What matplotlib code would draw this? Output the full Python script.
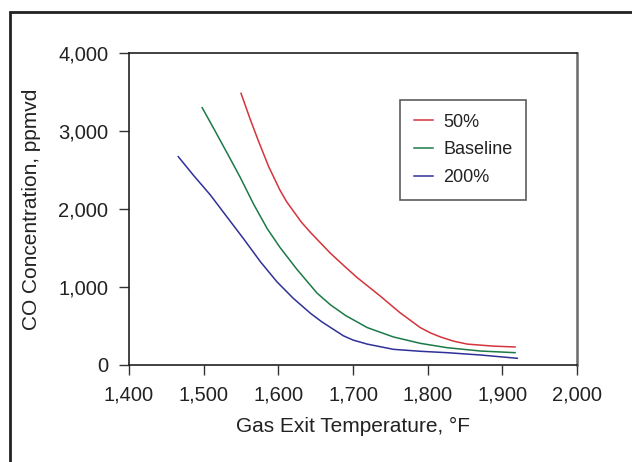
import matplotlib
matplotlib.use("Agg")
import matplotlib.pyplot as plt
from matplotlib.patches import Rectangle

plt.rcParams['font.family'] = ['Liberation Sans', 'DejaVu Sans']

# Gas exit temperature (°F) and CO concentration (ppmvd) for each case
temp_50 = [1550, 1562, 1573, 1587, 1595, 1602, 1611, 1620, 1631, 1643, 1669, 1687,
           1705, 1737, 1763, 1790, 1804, 1817, 1835, 1853, 1888, 1917]
co_50 = [3483, 3160, 2880, 2545, 2385, 2245, 2095, 1975, 1830, 1700, 1440, 1280,
         1125, 880, 670, 480, 410, 360, 305, 268, 242, 231]

temp_base = [1498, 1513, 1531, 1549, 1567, 1585, 1602, 1625, 1652, 1670, 1690, 1719,
             1754, 1790, 1826, 1871, 1917]
co_base = [3299, 3040, 2725, 2405, 2060, 1750, 1510, 1225, 920, 770, 635, 480,
           360, 278, 222, 179, 158]

temp_200 = [1466, 1486, 1509, 1531, 1553, 1576, 1598, 1620, 1643, 1658, 1687, 1700,
            1719, 1754, 1790, 1826, 1871, 1920]
co_200 = [2671, 2436, 2179, 1901, 1624, 1324, 1068, 855, 663, 555, 375, 320,
          268, 201, 176, 158, 128, 86]

series_labels = ["50%", "Baseline", "200%"]
series_colors = ["#d4343c", "#1b7a46", "#30309a"]

x_ticks = [1400, 1500, 1600, 1700, 1800, 1900, 2000]
y_ticks = [0, 1000, 2000, 3000, 4000]

W, H = 632, 462
fig = plt.figure(figsize=(W / 100, H / 100), dpi=100)
ax = fig.add_axes([129 / W, 1 - 365 / H, 448 / W, 312 / H])

# Outer frame that runs off the right and bottom edges
fig.patches.append(Rectangle((10 / W, -1), 2, 1 + (1 - 12 / H), transform=fig.transFigure,
                             fill=False, edgecolor="#222222", linewidth=2.0, zorder=0))

for xs, ys, lab, col in zip([temp_50, temp_base, temp_200], [co_50, co_base, co_200],
                            series_labels, series_colors):
    ax.plot(xs, ys, color=col, linewidth=1.1, label=lab,
            solid_joinstyle="round", antialiased=True)

ax.set_xlim(1400, 2000)
ax.set_ylim(0, 4000)
ax.set_xticks(x_ticks)
ax.set_yticks(y_ticks)
ax.set_xticklabels([f"{v:,}" for v in x_ticks])
ax.set_yticklabels([f"{v:,}" for v in y_ticks])
ax.tick_params(axis="both", direction="out", length=7, width=1.0, labelsize=14.5,
               color="#333333", labelcolor="#222222")
ax.tick_params(axis="x", pad=8)
ax.tick_params(axis="y", pad=8)
for t, v in zip(ax.xaxis.get_major_ticks(), x_ticks):
    if v >= 1800:
        t.tick1line.set_color("#8a5ec8")

for side in ["left", "bottom", "top"]:
    ax.spines[side].set_color("#222222")
    ax.spines[side].set_linewidth(1.2)
ax.spines["right"].set_color("#6a6a6a")
ax.spines["right"].set_linewidth(1.8)

ax.set_xlabel("Gas Exit Temperature, °F", fontsize=15, color="#222222", labelpad=9)
ax.set_ylabel("CO Concentration, ppmvd", fontsize=15, color="#222222", labelpad=12)

leg = ax.legend(loc="upper left", bbox_to_anchor=((400 - 129) / 448, (365 - 100) / 312),
                borderaxespad=0, fontsize=13, frameon=True, fancybox=False, shadow=False,
                handlelength=1.1, handletextpad=0.55, labelspacing=0.6, borderpad=0.75)
leg.get_frame().set_edgecolor("#333333")
leg.get_frame().set_linewidth(1.2)
for t in leg.get_texts():
    t.set_color("#222222")

fig.savefig("out.png", dpi=100)
